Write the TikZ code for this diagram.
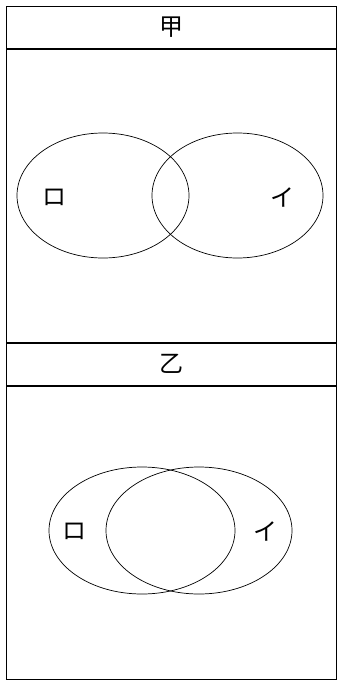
\documentclass[tikz,border=0pt]{standalone}
\usepackage{fontspec}
\newfontfamily\jpfont{Noto Sans CJK JP}
\usetikzlibrary{positioning,shapes.geometric}

\begin{document}
\begin{tikzpicture}[
    x=1pt, y=-1pt,
    font=\jpfont\fontsize{24}{28}\selectfont,
    header/.style={rectangle,draw,line width=0.9pt,minimum width=330pt,minimum height=42pt,inner sep=0pt},
    panel/.style={rectangle,draw,line width=0.9pt,minimum width=330pt,minimum height=293pt,inner sep=0pt},
    set/.style={ellipse,draw,line width=0.7pt,inner sep=0pt},
    lbl/.style={inner sep=0pt}
]
\useasboundingbox (0,0) rectangle (345,681);

% 甲
\node[header] (kouHead) at (171,27.5) {甲};
\node[panel,below=0pt of kouHead] (kouBody) {};
\node[set,minimum width=172pt,minimum height=125pt] (kouRo) at (103,195.5) {};
\node[set,minimum width=171pt,minimum height=125pt] (kouI) at (237.5,195.5) {};
\node[lbl] (kouRoL) at (54,197) {ロ};
\node[lbl] (kouIL) at (282,197) {イ};

% 乙
\node[header,below=0pt of kouBody] (otsuHead) {乙};
\node[panel,below=0pt of otsuHead] (otsuBody) {};
\node[set,minimum width=186pt,minimum height=127pt] (otsuRo) at (142,530.5) {};
\node[set,minimum width=186pt,minimum height=127pt] (otsuI) at (199,530.5) {};
\node[lbl] (otsuRoL) at (74,531) {ロ};
\node[lbl] (otsuIL) at (265,531) {イ};

\end{tikzpicture}
\end{document}
